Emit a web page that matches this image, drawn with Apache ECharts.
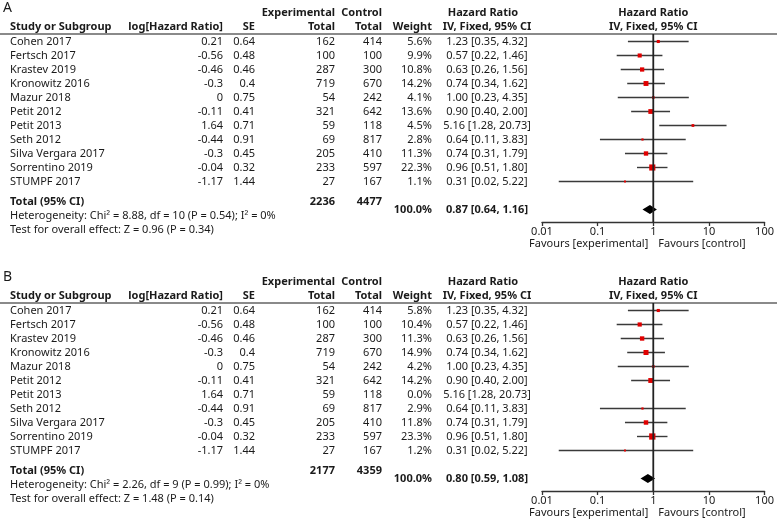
<!DOCTYPE html>
<html><head><meta charset="utf-8">
<script src="https://cdn.jsdelivr.net/npm/echarts@6/dist/echarts.min.js"></script>
<style>html,body{margin:0;padding:0;background:#fff}#c{width:777px;height:520px}</style>
</head><body><div id="c"></div>
<script>
// ---------- data ----------
const panels = ['A', 'B'];
const studies = ['Cohen 2017','Fertsch 2017','Krastev 2019','Kronowitz 2016','Mazur 2018','Petit 2012','Petit 2013','Seth 2012','Silva Vergara 2017','Sorrentino 2019','STUMPF 2017'];
const logHR = ['0.21','-0.56','-0.46','-0.3','0','-0.11','1.64','-0.44','-0.3','-0.04','-1.17'];
const seVals = ['0.64','0.48','0.46','0.4','0.75','0.41','0.71','0.91','0.45','0.32','1.44'];
const expTotal = [162,100,287,719,54,321,59,69,205,233,27];
const ctrlTotal = [414,100,300,670,242,642,118,817,410,597,167];
const hr = [1.23,0.57,0.63,0.74,1.00,0.90,5.16,0.64,0.74,0.96,0.31];
const hrLow = [0.35,0.22,0.26,0.34,0.23,0.40,1.28,0.11,0.31,0.51,0.02];
const hrHigh = [4.32,1.46,1.56,1.62,4.35,2.00,20.73,3.83,1.79,1.80,5.22];
const weightA = [5.6,9.9,10.8,14.2,4.1,13.6,4.5,2.8,11.3,22.3,1.1];
const weightB = [5.8,10.4,11.3,14.9,4.2,14.2,0.0,2.9,11.8,23.3,1.2];
const totalExp = [2236, 2177];
const totalCtrl = [4477, 4359];
const totalHR = [0.87, 0.80];
const totalLow = [0.64, 0.59];
const totalHigh = [1.16, 1.08];
const hetText = ['Heterogeneity: Chi² = 8.88, df = 10 (P = 0.54); I² = 0%', 'Heterogeneity: Chi² = 2.26, df = 9 (P = 0.99); I² = 0%'];
const testText = ['Test for overall effect: Z = 0.96 (P = 0.34)', 'Test for overall effect: Z = 1.48 (P = 0.14)'];
const nullEffect = 1;
const tickValues = [0.01, 0.1, 1, 10, 100];
const tickLabels = ['0.01', '0.1', '1', '10', '100'];
const weights = [weightA, weightB];

// ---------- layout ----------
const FONT = '"Noto Sans", sans-serif';
const FS = 11;
const TXT = '#1a1a1a';
const panelOffset = [0, 269];
const ruleY = 34;
const rowStep = 14;
const firstRowGap = 7.5;
const gridH = 188;
const yMin = -firstRowGap / rowStep;
const yMax = yMin + gridH / rowStep;
const TOTAL_ROW = 12;       // diamond row (right side)
const TOTAL_TEXT_ROW = 11.45;
const col = {study: 10, logR: 223, seR: 255, expR: 335, ctrlR: 382, wR: 432, hrC: 487};

const chart = echarts.init(document.getElementById('c'), null, {renderer: 'canvas'});

const grids = [], xAxes = [], yAxes = [], series = [];
panels.forEach((p, k) => {
  grids.push({left: 542, width: 225, top: ruleY + panelOffset[k], height: gridH});
  xAxes.push({
    type: 'log', logBase: 10, min: 0.01, max: 100, gridIndex: k, position: 'bottom',
    axisLine: {show: true, onZero: false, lineStyle: {color: '#333', width: 1.3}},
    axisTick: {show: true, length: 4, customValues: tickValues, lineStyle: {color: '#333', width: 1.3}},
    axisLabel: {show: true, customValues: tickValues, margin: 4, fontSize: FS, fontFamily: FONT, color: TXT,
      formatter: v => tickLabels[tickValues.findIndex(t => Math.abs(Math.log10(t) - Math.log10(v)) < 1e-6)] || ''},
    splitLine: {show: false}
  });
  yAxes.push({type: 'value', gridIndex: k, inverse: true, min: yMin, max: yMax, show: false});

  const w = weights[k];
  const data = studies.map((s, i) => [hrLow[i], hrHigh[i], hr[i], i, w[i]]).filter(d => d[4] > 0);
  series.push({
    type: 'custom', xAxisIndex: k, yAxisIndex: k, z: 3, clip: false,
    data: data, encode: {x: [0, 1, 2], y: 3},
    renderItem(params, api) {
      const row = api.value(3);
      const p1 = api.coord([api.value(0), row]);
      const p2 = api.coord([api.value(1), row]);
      const pc = api.coord([api.value(2), row]);
      const s = Math.max(2, 1.3 * Math.sqrt(api.value(4)));
      return {type: 'group', children: [
        {type: 'line', shape: {x1: p1[0], y1: p1[1], x2: p2[0], y2: p2[1]}, style: {stroke: '#3a3a3a', lineWidth: 1.4}},
        {type: 'rect', shape: {x: pc[0] - s / 2, y: pc[1] - s / 2, width: s, height: s}, style: {fill: '#e00000'}}
      ]};
    }
  });
  // pooled diamond
  series.push({
    type: 'custom', xAxisIndex: k, yAxisIndex: k, z: 4, clip: false,
    data: [[totalLow[k], totalHigh[k], totalHR[k], TOTAL_ROW]], encode: {x: [0, 1, 2], y: 3},
    renderItem(params, api) {
      const row = api.value(3);
      const a = api.coord([api.value(0), row]);
      const b = api.coord([api.value(1), row]);
      const c = api.coord([api.value(2), row]);
      const h = 4.5;
      return {type: 'polygon', shape: {points: [[a[0], a[1]], [c[0], c[1] - h], [b[0], b[1]], [c[0], c[1] + h]]},
        style: {fill: '#000'}};
    }
  });
});

chart.setOption({animation: false, grid: grids, xAxis: xAxes, yAxis: yAxes, series: series});

// ---------- table text & line of no effect ----------
const g = [];
function txt(text, x, y, align, bold, size) {
  g.push({type: 'text', x: x, y: y, silent: true, style: {text: String(text), x: 0, y: 0,
    fontSize: size || FS, fontFamily: FONT, fontWeight: bold ? 'bold' : 'normal', fill: TXT,
    align: align || 'left', verticalAlign: 'middle'}});
}
panels.forEach((p, k) => {
  const off = panelOffset[k];
  const rowY = r => chart.convertToPixel({gridIndex: k}, [nullEffect, r])[1];
  const xPix = v => chart.convertToPixel({xAxisIndex: k}, v);
  // line of no effect, positioned through the chart's own scales
  const n1 = chart.convertToPixel({gridIndex: k}, [nullEffect, yMin]);
  const n2 = chart.convertToPixel({gridIndex: k}, [nullEffect, yMax]);
  g.push({type: 'polyline', silent: true, z: 5,
    shape: {points: [[n1[0], n1[1]], [n2[0], n2[1]]]}, style: {stroke: '#222', lineWidth: 1.8, fill: null}});

  txt(p, 3, off + 8, 'left', false, 14);
  const h1 = off + 13, h2 = off + 27;
  txt('Experimental', col.expR, h1, 'right', true);
  txt('Control', col.ctrlR, h1, 'right', true);
  txt('Hazard Ratio', col.hrC - 4, h1, 'center', true);
  txt('Hazard Ratio', xPix(nullEffect), h1, 'center', true);
  txt('Study or Subgroup', col.study, h2, 'left', true);
  txt('log[Hazard Ratio]', col.logR, h2, 'right', true);
  txt('SE', col.seR, h2, 'right', true);
  txt('Total', col.expR, h2, 'right', true);
  txt('Total', col.ctrlR, h2, 'right', true);
  txt('Weight', col.wR, h2, 'right', true);
  txt('IV, Fixed, 95% CI', col.hrC, h2, 'center', true);
  txt('IV, Fixed, 95% CI', xPix(nullEffect), h2, 'center', true);
  g.push({type: 'line', silent: true, shape: {x1: 0, y1: off + ruleY, x2: 777, y2: off + ruleY},
    style: {stroke: '#8a8a8a', lineWidth: 2}});
  studies.forEach((s, i) => {
    const y = rowY(i);
    txt(s, col.study, y, 'left');
    txt(logHR[i], col.logR, y, 'right');
    txt(seVals[i], col.seR, y, 'right');
    txt(expTotal[i], col.expR, y, 'right');
    txt(ctrlTotal[i], col.ctrlR, y, 'right');
    txt(weights[k][i].toFixed(1) + '%', col.wR, y, 'right');
    txt(hr[i].toFixed(2) + ' [' + hrLow[i].toFixed(2) + ', ' + hrHigh[i].toFixed(2) + ']', col.hrC, y, 'center');
  });
  const ty = rowY(TOTAL_TEXT_ROW);
  txt('Total (95% CI)', col.study, ty, 'left', true);
  txt(totalExp[k], col.expR, ty, 'right', true);
  txt(totalCtrl[k], col.ctrlR, ty, 'right', true);
  const tr = rowY(TOTAL_ROW);
  txt('100.0%', col.wR, tr, 'right', true);
  txt(totalHR[k].toFixed(2) + ' [' + totalLow[k].toFixed(2) + ', ' + totalHigh[k].toFixed(2) + ']', col.hrC, tr, 'center', true);
  txt(hetText[k], col.study, rowY(TOTAL_TEXT_ROW + 1), 'left');
  txt(testText[k], col.study, rowY(TOTAL_TEXT_ROW + 2), 'left');
  const axisY = off + ruleY + gridH;
  txt('Favours [experimental]', xPix(nullEffect) - 5, axisY + 22, 'right');
  txt('Favours [control]', xPix(nullEffect) + 5, axisY + 22, 'left');
});
chart.setOption({graphic: g});
</script></body></html>
